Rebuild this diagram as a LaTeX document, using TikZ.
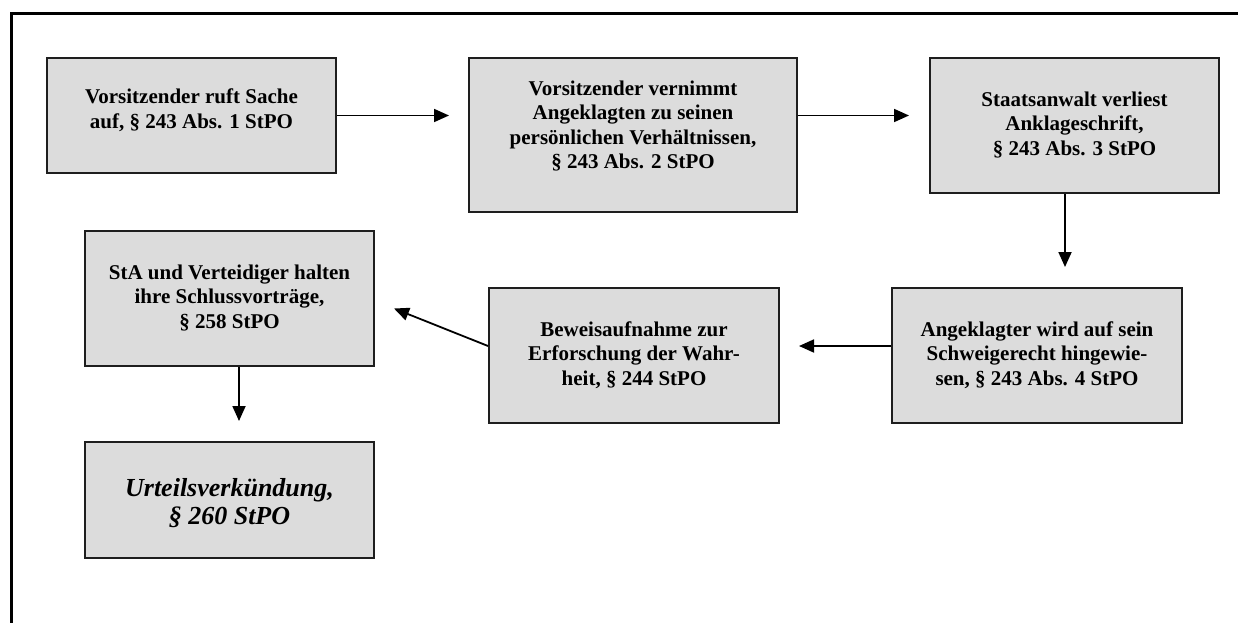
\documentclass[tikz,border=0pt]{standalone}
\usepackage{fontspec}
\setmainfont{Liberation Serif}
\usetikzlibrary{arrows.meta}
\definecolor{boxfill}{RGB}{220,220,220}
\definecolor{boxline}{RGB}{30,30,30}
\begin{document}
\begin{tikzpicture}[x=1pt,y=-1pt,
  stepbox/.style={draw=boxline,fill=boxfill,line width=2pt,rectangle,inner sep=0pt},
  boxtext/.style={align=center,inner sep=0pt,font=\bfseries\fontsize{21}{24.5}\selectfont},
  finaltext/.style={align=center,inner sep=0pt,font=\bfseries\itshape\fontsize{26}{28.5}\selectfont},
  flow/.style={line width=1.8pt,-{Triangle[length=15pt,width=13pt]}},
]
\useasboundingbox (0,0) rectangle (1238,623);
% outer frame, open to the right and bottom
\draw[line width=3pt] (1238,14) -- (11,14) -- (11,623);

% boxes
\node[stepbox,minimum width=289pt,minimum height=115pt] (b1) at (191.5,115.5) {};
\node[stepbox,minimum width=328pt,minimum height=154pt] (b2) at (633,135) {};
\node[stepbox,minimum width=289pt,minimum height=135pt] (b3) at (1074.5,125.5) {};
\node[stepbox,minimum width=290pt,minimum height=135pt] (b4) at (1037,355.5) {};
\node[stepbox,minimum width=290pt,minimum height=135pt] (b5) at (634,355.5) {};
\node[stepbox,minimum width=289pt,minimum height=135pt] (b6) at (229.5,298.5) {};
\node[stepbox,minimum width=289pt,minimum height=116pt] (b7) at (229.5,500) {};

% box texts
\node[boxtext] (t1) at (191.5,110) {Vorsitzender ruft Sache\\auf, § 243 Abs. 1 StPO};
\node[boxtext] (t2) at (633,126) {Vorsitzender vernimmt\\Angeklagten zu seinen\\persönlichen Verhältnissen,\\§ 243 Abs. 2 StPO};
\node[boxtext] (t3) at (1074.5,125) {Staatsanwalt verliest\\Anklageschrift,\\§ 243 Abs. 3 StPO};
\node[boxtext] (t4) at (1037,355) {Angeklagter wird auf sein\\Schweigerecht hingewie-\\sen, § 243 Abs. 4 StPO};
\node[boxtext] (t5) at (634,355) {Beweisaufnahme zur\\Erforschung der Wahr-\\heit, § 244 StPO};
\node[boxtext] (t6) at (229.5,298) {StA und Verteidiger halten\\ihre Schlussvorträge,\\§ 258 StPO};
\node[finaltext] (t7) at (229.5,503) {Urteilsverkündung,\\§ 260 StPO};

% connectors
\draw[flow,shorten >=19pt] (b1.east) -- (b1.east -| b2.west);
\draw[flow,shorten >=20pt] (b2.east |- b1.east) -- (b3.west |- b1.east);
\draw[flow,shorten >=20pt] ([xshift=-9.5pt]b3.south) -- ([xshift=-9.5pt]b3.south |- b4.north);
\draw[flow,shorten >=19pt] ([yshift=9.5pt]b4.west) -- ([yshift=9.5pt]b4.west -| b5.east);
\draw[flow] ([yshift=9.5pt]b5.west) -- ([xshift=19pt,yshift=-10pt]b6.east);
\draw[flow,shorten >=20pt] ([xshift=9.5pt]b6.south) -- ([xshift=9.5pt]b6.south |- b7.north);
\end{tikzpicture}
\end{document}
